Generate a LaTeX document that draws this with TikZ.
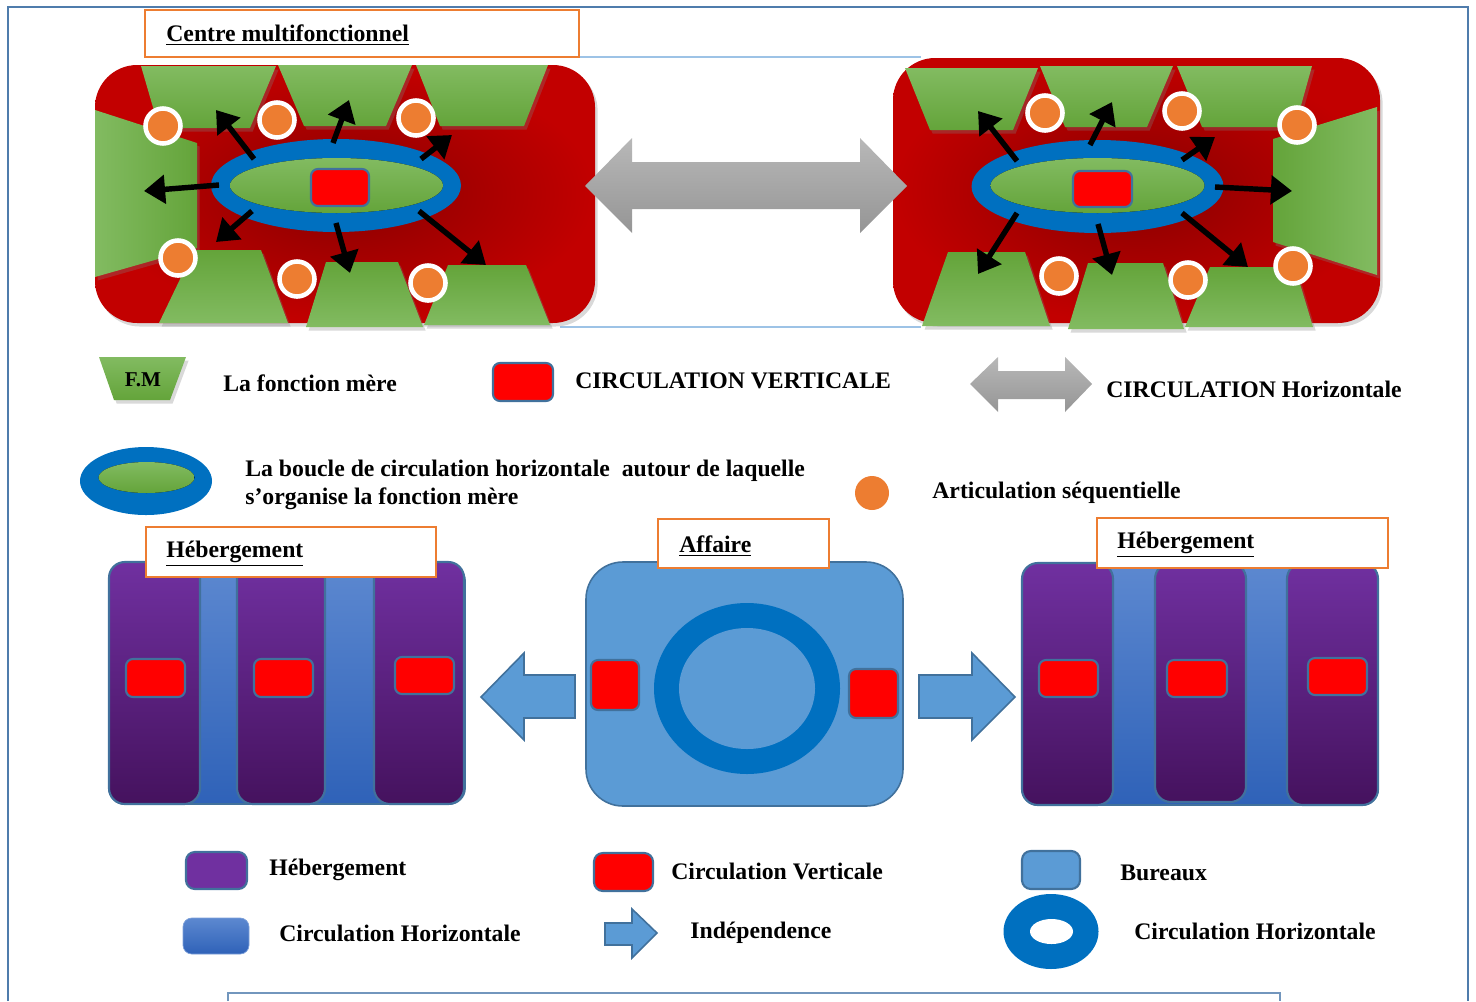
\documentclass[tikz,border=0pt]{standalone}
\usepackage{fontspec}
\setmainfont{Liberation Serif}
\usepackage{xcolor}
\usepackage{tikz}
\usetikzlibrary{arrows.meta, shadows}

\definecolor{redA}{HTML}{C20000}
\definecolor{redB}{HTML}{880000}
\definecolor{fmLight}{HTML}{82BB61}
\definecolor{fmDark}{HTML}{64A43A}
\definecolor{artOrange}{HTML}{ED7D31}
\definecolor{ringBlue}{HTML}{0070C0}
\definecolor{bureauBlue}{HTML}{5B9BD5}
\definecolor{edgeBlue}{HTML}{41719C}
\definecolor{hebTop}{HTML}{7030A0}
\definecolor{hebBot}{HTML}{45125E}
\definecolor{circTop}{HTML}{5C88D0}
\definecolor{circBot}{HTML}{2F62B8}
\definecolor{frameBlue}{HTML}{4F7CAC}
\definecolor{frameLight}{HTML}{9DC3E6}
\definecolor{greyTop}{HTML}{B8B8B8}
\definecolor{greyBot}{HTML}{959595}

\begin{document}
\begin{tikzpicture}[x=0.02cm, y=-0.02cm,
        lbl/.style={anchor=west, inner sep=0pt, font=\bfseries\fontsize{13.5}{16}\selectfont},
        titlebox/.style={draw=artOrange, line width=1.2pt, fill=white},
        shad/.style={drop shadow={opacity=0.3, shadow xshift=1.5pt, shadow yshift=-2pt}},
        redblock/.style={shad, rounded corners=24pt, inner color=redB, outer color=redA},
        fmtop/.style={shad, top color=fmLight, bottom color=fmDark},
        fmbot/.style={shad, top color=fmDark, bottom color=fmLight},
        fmleft/.style={shad, left color=fmLight, right color=fmDark},
        fmright/.style={shad, left color=fmDark, right color=fmLight},
        vcirc/.style={fill=red, draw=edgeBlue, line width=1.2pt, rounded corners=4pt},
        artic/.style={fill=artOrange, draw=white, line width=2.6pt},
        farrow/.style={line width=3.1pt, -{Triangle[length=12pt, width=16pt]}},
        harrow/.style={top color=greyTop, bottom color=greyBot},
        barrow/.style={fill=bureauBlue, draw=edgeBlue, line width=0.9pt},
        hebcol/.style={top color=hebTop, bottom color=hebBot, draw=edgeBlue, line width=1.2pt, rounded corners=9pt},
        hebcirc/.style={top color=circTop, bottom color=circBot, draw=edgeBlue, line width=1pt, rounded corners=9pt}
    ]
    \useasboundingbox (0,0) rectangle (1476,1001);

    % frames
    \draw [frameBlue, line width=1.3pt] (8,1001) -- (8,7) -- (1468,7) -- (1468,1001);
    \draw [frameBlue!80, line width=1.3pt] (228,1001) -- (228,993) -- (1280,993) -- (1280,1001);
    \draw [frameLight, line width=0.8pt] (579,57) -- (921,57);
    \draw [frameLight, line width=0.8pt] (560,327) -- (921,327);

    % centre multifonctionnel, left
    \path [redblock] (95,65) rectangle (595,323);
    \path [fmtop] (141,66) -- (276,66) -- (250,128) -- (159,128) -- cycle;
    \path [fmtop] (278,65) -- (412,65) -- (386,126) -- (304,126) -- cycle;
    \path [fmtop] (416,65) -- (548,65) -- (524,126) -- (440,126) -- cycle;
    \path [fmleft] (95,110) -- (197,143) -- (197,248) -- (95,277) -- cycle;
    \path [fmbot] (194,250) -- (261,250) -- (288,323) -- (159,323) -- cycle;
    \path [fmbot] (326,262) -- (398,262) -- (423,327) -- (306,327) -- cycle;
    \path [fmbot] (448,265) -- (526,265) -- (550,325) -- (424,325) -- cycle;
    \fill [ringBlue] (336,185.5) ellipse [x radius=125, y radius=46.5];
    \fill [top color=fmLight, bottom color=fmDark] (336.5,185.5) ellipse [x radius=106.5, y radius=27.5];
    \path [vcirc] (311,169) rectangle (369,206);
    \draw [farrow] (254,159) -- (216,110);
    \draw [farrow] (333,143) -- (349,100);
    \draw [farrow] (421,159) -- (452,135);
    \draw [farrow] (219,185) -- (144,191);
    \draw [farrow] (252,211) -- (216,242);
    \draw [farrow] (336,223) -- (350,273);
    \draw [farrow] (419,211) -- (486,265);
    \filldraw [artic] (163,126) circle [radius=17.5];
    \filldraw [artic] (277,120) circle [radius=17.5];
    \filldraw [artic] (416,118) circle [radius=17.5];
    \filldraw [artic] (178,258) circle [radius=17.5];
    \filldraw [artic] (297,279) circle [radius=17.5];
    \filldraw [artic] (428,283) circle [radius=17.5];

    % centre multifonctionnel, right
    \path [redblock] (893,58) rectangle (1380,323);
    \path [fmtop] (905,68) -- (1038,68) -- (1013,130) -- (930,130) -- cycle;
    \path [fmtop] (1040,66) -- (1173,66) -- (1147,127) -- (1065,127) -- cycle;
    \path [fmtop] (1177,66) -- (1312,66) -- (1295,127) -- (1202,127) -- cycle;
    \path [fmright] (1273,139) -- (1377,107) -- (1377,275) -- (1273,242) -- cycle;
    \path [fmbot] (948,252) -- (1025,252) -- (1050,326) -- (922,326) -- cycle;
    \path [fmbot] (1088,263) -- (1163,263) -- (1184,329) -- (1068,329) -- cycle;
    \path [fmbot] (1210,267) -- (1295,267) -- (1313,327) -- (1185,327) -- cycle;
    \fill [ringBlue] (1097.5,186.5) ellipse [x radius=126, y radius=46.5];
    \fill [top color=fmLight, bottom color=fmDark] (1097.5,185.5) ellipse [x radius=107, y radius=27.5];
    \path [vcirc] (1073,171) rectangle (1132,207);
    \draw [farrow] (1017,161) -- (978,111);
    \draw [farrow] (1090,145) -- (1112,102);
    \draw [farrow] (1182,160) -- (1215,137);
    \draw [farrow] (1215,187) -- (1292,191);
    \draw [farrow] (1017,213) -- (978,274);
    \draw [farrow] (1098,224) -- (1112,275);
    \draw [farrow] (1182,213) -- (1248,267);
    \filldraw [artic] (1045,113) circle [radius=17.5];
    \filldraw [artic] (1182,111) circle [radius=17.5];
    \filldraw [artic] (1297,125) circle [radius=17.5];
    \filldraw [artic] (1059,276) circle [radius=17.5];
    \filldraw [artic] (1188,280) circle [radius=17.5];
    \filldraw [artic] (1293,266) circle [radius=17.5];

    % horizontal link
    \path [harrow] (585,186) -- (632,138) -- (632,162) -- (860,162) -- (860,138) -- (907,186)
        -- (860,233) -- (860,209) -- (632,209) -- (632,233) -- cycle;

    \draw [titlebox] (145,10) rectangle (579,57);
    \node (centre) at (166,35) [lbl] {\underline{Centre multifonctionnel}};

    % legend, top
    \path [fmtop] (99,357) -- (186,357) -- (170,400) -- (114,400) -- cycle;
    \node (fmtag) at (143,380) [lbl, anchor=center, font=\bfseries\fontsize{12}{14}\selectfont] {F.M};
    \node (fmtext) at (223,383) [lbl] {La fonction mère};
    \path [vcirc] (493,363) rectangle (553,401);
    \node (cvtext) at (575,381) [lbl] {CIRCULATION VERTICALE};
    \path [harrow] (970,384) -- (998,357) -- (998,371) -- (1065,371) -- (1065,357) -- (1092,384)
        -- (1065,412) -- (1065,399) -- (998,399) -- (998,412) -- cycle;
    \node (chtext) at (1106,389) [lbl] {CIRCULATION Horizontale};
    \fill [ringBlue] (146,481) ellipse [x radius=66, y radius=34];
    \fill [top color=fmLight, bottom color=fmDark] (146.5,477.5) ellipse [x radius=48, y radius=15.5];
    \node (boucle) at (245,485) [lbl, align=left] {La boucle de circulation horizontale\ \ autour de laquelle\\s’organise la fonction mère};
    \fill [artOrange] (872,493) circle [radius=17];
    \node (artext) at (932,493) [lbl] {Articulation séquentielle};

    % hebergement, left
    \path [hebcirc] (109,565) rectangle (465,804);
    \path [hebcol] (109,562) rectangle (200,804);
    \path [hebcol] (237,562) rectangle (325,804);
    \path [hebcol] (374,562) rectangle (464,804);
    \path [vcirc] (126,659) rectangle (185,697);
    \path [vcirc] (254,659) rectangle (313,697);
    \path [vcirc] (395,657) rectangle (454,694);
    \draw [titlebox] (146,527) rectangle (436,577);
    \node (hebleft) at (166,554) [lbl] {\underline{Hébergement}};

    % affaire
    \draw [barrow, rounded corners=21pt] (586,562) rectangle (903,806);
    \fill [ringBlue] (747,688.5) ellipse [x radius=93, y radius=85.5];
    \fill [bureauBlue] (747,688.5) ellipse [x radius=68, y radius=60.5];
    \path [vcirc] (591,660) rectangle (639,710);
    \path [vcirc] (849,669) rectangle (898,718);
    \draw [titlebox] (658,519) rectangle (829,568);
    \node (affaire) at (679,546) [lbl] {\underline{Affaire}};
    \draw [barrow] (575,675) -- (524,675) -- (524,653) -- (481,697) -- (524,740) -- (524,718) -- (575,718) -- cycle;
    \draw [barrow] (919,675) -- (972,675) -- (972,653) -- (1015,697) -- (972,740) -- (972,718) -- (919,718) -- cycle;

    % hebergement, right
    \path [hebcirc] (1022,565) rectangle (1378,805);
    \path [hebcol] (1022,563) rectangle (1113,805);
    \path [hebcol] (1155,563) rectangle (1246,802);
    \path [hebcol] (1287,563) rectangle (1378,805);
    \path [vcirc] (1039,660) rectangle (1098,697);
    \path [vcirc] (1167,660) rectangle (1227,697);
    \path [vcirc] (1308,658) rectangle (1367,695);
    \draw [titlebox] (1097,518) rectangle (1388,568);
    \node (hebright) at (1117,545) [lbl] {\underline{Hébergement}};

    % legend, bottom
    \filldraw [fill=hebTop, draw=edgeBlue, line width=1.2pt, rounded corners=5pt] (186,852) rectangle (247,889);
    \node (lgheb) at (269,870) [lbl] {Hébergement};
    \path [vcirc, rounded corners=5pt] (594,853) rectangle (653,891);
    \node (lgcv) at (671,871) [lbl] {Circulation Verticale};
    \path [top color=circTop, bottom color=circBot, draw=circTop!80, rounded corners=5pt] (183,918) rectangle (249,954);
    \node (lgch) at (279,933) [lbl] {Circulation Horizontale};
    \draw [barrow] (605,923) -- (632,923) -- (632,909) -- (657,933) -- (632,958) -- (632,945) -- (605,945) -- cycle;
    \node (lgind) at (690,933) [lbl] {Indépendence};
    \filldraw [fill=bureauBlue, draw=edgeBlue, line width=1.2pt, rounded corners=5pt] (1022,851) rectangle (1080,889);
    \node (lgbur) at (1120,873) [lbl] {Bureaux};
    \fill [ringBlue] (1051,931.5) ellipse [x radius=47.5, y radius=37.5];
    \fill [white] (1051.5,931.5) ellipse [x radius=21.5, y radius=12.5];
    \node (lgring) at (1134,931) [lbl] {Circulation Horizontale};

\end{tikzpicture}
\end{document}
